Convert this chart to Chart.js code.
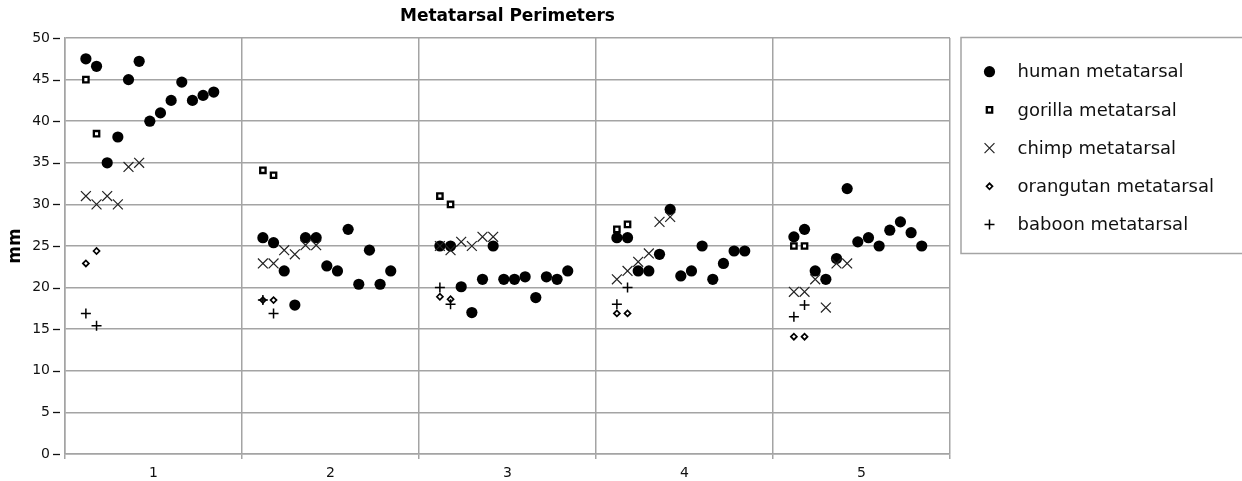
<!DOCTYPE html>
<html><head><meta charset="utf-8">
<script src="https://cdn.jsdelivr.net/npm/chart.js@4/dist/chart.umd.min.js"></script>
<style>html,body{margin:0;padding:0;background:#fff;overflow:hidden;}</style>
</head><body>
<canvas id="c" width="1242" height="481"></canvas>
<script>
// ---- data ----
const categories = ['1', '2', '3', '4', '5'];
const seriesNames = ['human metatarsal', 'gorilla metatarsal', 'chimp metatarsal', 'orangutan metatarsal', 'baboon metatarsal'];
const yTickValues = [0, 5, 10, 15, 20, 25, 30, 35, 40, 45, 50];

const human = [
  [47.5, 46.6, 35.0, 38.1, 45.0, 47.2, 40.0, 41.0, 42.5, 44.7, 42.5, 43.1, 43.5],
  [26.0, 25.4, 22.0, 17.9, 26.0, 26.0, 22.6, 22.0, 27.0, 20.4, 24.5, 20.4, 22.0],
  [25.0, 25.0, 20.1, 17.0, 21.0, 25.0, 21.0, 21.0, 21.3, 18.8, 21.3, 21.0, 22.0],
  [26.0, 26.0, 22.0, 22.0, 24.0, 29.4, 21.4, 22.0, 25.0, 21.0, 22.9, 24.4, 24.4],
  [26.1, 27.0, 22.0, 21.0, 23.5, 31.9, 25.5, 26.0, 25.0, 26.9, 27.9, 26.6, 25.0]
];
const gorilla = [
  [45.0, 38.5],
  [34.1, 33.5],
  [31.0, 30.0],
  [27.0, 27.6],
  [25.0, 25.0]
];
const chimp = [
  [31.0, 30.0, 31.0, 30.0, 34.5, 35.0],
  [22.9, 22.9, 24.5, 24.0, 25.1, 25.1],
  [25.0, 24.5, 25.5, 25.0, 26.1, 26.1],
  [21.0, 22.0, 23.1, 24.1, 27.9, 28.5],
  [19.5, 19.5, 21.0, 17.6, 22.9, 22.9]
];
const orangutan = [
  [22.9, 24.4],
  [18.5, 18.5],
  [18.9, 18.6],
  [16.9, 16.9],
  [14.1, 14.1]
];
const baboon = [
  [16.9, 15.4],
  [18.5, 16.9],
  [20.0, 18.0],
  [18.0, 20.0],
  [16.5, 17.9]
];

// ---- layout of points within each category band ----
const SLOT_START = -0.382;
const SLOT_STEP = 0.0602;
function toPoints(groups) {
  const pts = [];
  groups.forEach((vals, ci) => {
    vals.forEach((v, j) => pts.push({ x: ci + 1 + SLOT_START + j * SLOT_STEP, y: v }));
  });
  return pts;
}

const FONT = '"DejaVu Sans", Verdana, sans-serif';
const GRID = '#a4a4a4';
const isInt = v => Math.abs(v - Math.round(v)) < 1e-6;

const datasets = [
  { label: seriesNames[0], data: toPoints(human), pointStyle: 'circle', pointRadius: 5.6,
    backgroundColor: '#000', borderColor: '#000', borderWidth: 0, order: 5 },
  { label: seriesNames[1], data: toPoints(gorilla), pointStyle: 'rect', pointRadius: 3.8,
    backgroundColor: '#fff', borderColor: '#000', borderWidth: 2.3, order: 4 },
  { label: seriesNames[2], data: toPoints(chimp), pointStyle: 'crossRot', pointRadius: 7,
    backgroundColor: '#222', borderColor: '#222', borderWidth: 1.2, order: 3 },
  { label: seriesNames[3], data: toPoints(orangutan), pointStyle: 'rectRot', pointRadius: 3,
    backgroundColor: '#fff', borderColor: '#000', borderWidth: 1.7, order: 2 },
  { label: seriesNames[4], data: toPoints(baboon), pointStyle: 'cross', pointRadius: 5,
    backgroundColor: '#000', borderColor: '#000', borderWidth: 1.5, order: 1 }
];

const yDashTicks = {
  id: 'yDashTicks',
  afterDraw(chart) {
    const s = chart.scales.y;
    const ctx = chart.ctx;
    ctx.save();
    ctx.strokeStyle = '#111';
    ctx.lineWidth = 1.3;
    s.ticks.forEach(t => {
      const y = Math.round(s.getPixelForValue(t.value)) + 0.5;
      ctx.beginPath();
      ctx.moveTo(s.right - 12, y);
      ctx.lineTo(s.right - 5, y);
      ctx.stroke();
    });
    ctx.restore();
  }
};

const boxLegend = {
  id: 'boxLegend',
  afterDraw(chart) {
    const ctx = chart.ctx;
    const x0 = chart.chartArea.right + 11;
    const y0 = 37.5;
    ctx.save();
    ctx.strokeStyle = GRID;
    ctx.lineWidth = 1.5;
    ctx.strokeRect(x0, y0, chart.width - x0 + 20, 216);
    chart.data.datasets.forEach((ds, i) => {
      const cy = 71.7 + i * 38.2;
      ctx.save();
      ctx.fillStyle = ds.backgroundColor;
      ctx.strokeStyle = ds.borderColor;
      ctx.lineWidth = ds.borderWidth;
      Chart.helpers.drawPoint(ctx, { pointStyle: ds.pointStyle, radius: ds.pointRadius, borderWidth: ds.borderWidth, rotation: 0 }, x0 + 28.5, cy);
      ctx.restore();
      ctx.fillStyle = '#111';
      ctx.font = '18px ' + FONT;
      ctx.textBaseline = 'middle';
      ctx.textAlign = 'left';
      ctx.fillText(ds.label, x0 + 56.5, cy + 1);
    });
    ctx.restore();
  }
};

new Chart(document.getElementById('c'), {
  type: 'scatter',
  data: { datasets },
  plugins: [boxLegend, yDashTicks],
  options: {
    responsive: false,
    devicePixelRatio: 1,
    animation: false,
    events: [],
    layout: { padding: { left: 0, right: 292, top: 0, bottom: 0 } },
    plugins: {
      legend: { display: false },
      tooltip: { enabled: false },
      title: {
        display: true, text: 'Metatarsal Perimeters', fullSize: false, color: '#000',
        font: { family: FONT, size: 17, weight: 'bold' },
        padding: { top: 6, bottom: 11.6 }
      }
    },
    scales: {
      x: {
        type: 'linear', min: 0.5, max: 5.5,
        afterFit: s => { s.height = 27; },
        ticks: {
          stepSize: 0.5, autoSkip: false, maxRotation: 0, padding: 6,
          color: '#111', font: { family: FONT, size: 14 },
          callback: v => isInt(v) ? categories[Math.round(v) - 1] : ''
        },
        grid: {
          color: c => (c.tick && isInt(c.tick.value)) ? 'rgba(0,0,0,0)' : GRID,
          tickColor: c => (c.tick && isInt(c.tick.value)) ? 'rgba(0,0,0,0)' : GRID,
          lineWidth: 1.5, tickLength: 5, tickWidth: 1.5
        },
        border: { color: GRID, width: 1.5 }
      },
      y: {
        min: 0, max: 50,
        afterFit: s => { s.width = 65; },
        afterBuildTicks: s => { s.ticks = yTickValues.map(v => ({ value: v })); },
        title: { display: true, text: 'mm', color: '#000', font: { family: FONT, size: 17, weight: 'bold' }, padding: { top: 5, bottom: 0 } },
        ticks: { color: '#111', font: { family: FONT, size: 14 }, padding: 3 },
        grid: {
          color: GRID, lineWidth: 1.5, tickColor: 'rgba(0,0,0,0)', tickLength: 12, tickWidth: 1
        },
        border: { color: GRID, width: 1.5 }
      }
    }
  }
});
</script>
</body></html>
